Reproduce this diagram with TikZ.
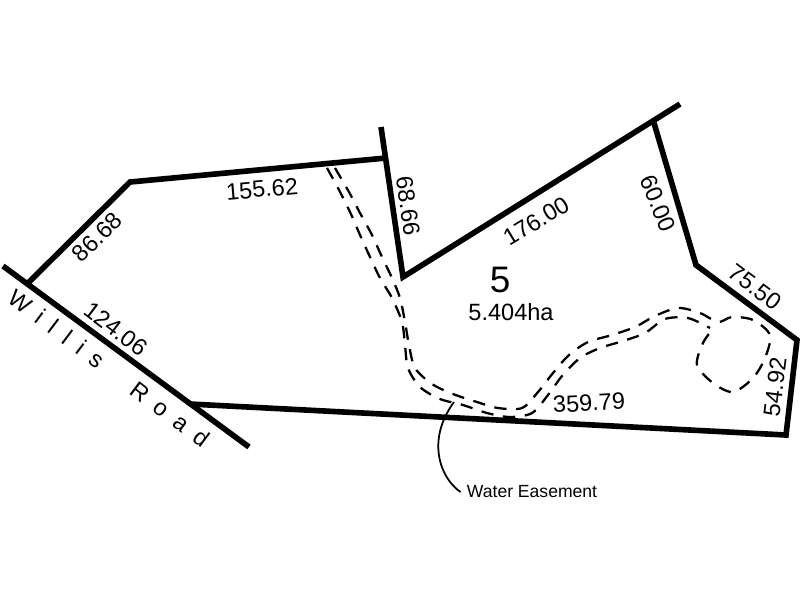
\documentclass[tikz,border=0pt]{standalone}
\usepackage{fontspec}
\setmainfont{Liberation Sans}
\begin{document}
\begin{tikzpicture}[x=0.02cm, y=-0.02cm]
	\tikzset{limite/.style={line width=3.2pt, line cap=butt, line join=miter},
		servitude/.style={line width=1.3pt, dash pattern=on 7pt off 5.5pt},
		cote/.style={inner sep=0pt, font=\fontsize{13.4}{15}\selectfont}};
	\useasboundingbox (0,0) rectangle (800,600);

	\coordinate (r1) at (3,266);
	\coordinate (r2) at (249,447);
	\coordinate (a) at (28,283);
	\coordinate (b) at (130,182);
	\coordinate (c) at (386,158);
	\coordinate (c2) at (381,127);
	\coordinate (d) at (403,277);
	\coordinate (e) at (654,123);
	\coordinate (e2) at (680,104);
	\coordinate (f) at (696,265);
	\coordinate (g) at (797,340);
	\coordinate (h) at (786,435);
	\coordinate (i) at (190,404);
	\coordinate (s) at (454,402);

	\draw[limite] (r1) -- (r2);
	\draw[limite] (a) -- (b) -- (c);
	\draw[limite] (c2) -- (d) -- (e2);
	\draw[limite] (e) -- (f) -- (g) -- (h) -- (i);

	\node[cote, rotate=5] (n1) at (262,189) {155.62};
	\node[cote, rotate=45] (n2) at (97,237) {86.68};
	\node[cote, rotate=-37] (n3) at (116,329) {124.06};
	\node[cote, rotate=-82] (n4) at (408,206) {68.66};
	\node[cote, rotate=31] (n5) at (536,221) {176.00};
	\node[cote, rotate=-67] (n6) at (658,203) {60.00};
	\node[cote, rotate=-37] (n7) at (755,287) {75.50};
	\node[cote, rotate=83] (n8) at (775,387) {54.92};
	\node[cote, rotate=3] (n9) at (589,403) {359.79};
	\node[inner sep=0pt, font=\fontsize{21}{24}\selectfont] (lot) at (500,280) {5};
	\node[cote] (aire) at (511,312) {5.404ha};
	\node[inner sep=0pt, font=\fontsize{10}{12}\selectfont] (eau) at (532,492) {Water Easement};
	\node[cote, rotate=-37] (nom) at (109,368) {W\,\,\,i\,\,\,l\,\,\,l\,\,\,i\,\,\,s\quad\,\,\,\,R\,\,\,o\,\,\,a\,\,\,d};

	\draw[servitude] plot[smooth] coordinates {(327,168) (338,188) (350,212) (360,235) (370,257) (380,278) (392,298) (402,322) (405,345) (408,368) (420,387) (440,399) (463,405) (487,413) (510,417) (532,413) (548,395) (562,376) (580,358) (600,348) (623,341) (645,333) (665,319) (688,318) (710,328)};
	\draw[servitude] plot[smooth] coordinates {(335,168) (349,192) (360,213) (372,235) (382,257) (392,278) (400,298) (405,322) (409,345) (415,368) (432,384) (453,394) (477,402) (498,408) (522,408) (538,392) (553,373) (569,355) (588,342) (612,335) (635,327) (655,316) (678,308) (700,313) (718,322) (732,317) (753,320) (770,335) (765,358) (753,378) (733,392) (713,383) (697,365) (703,343) (712,330)};

	\draw[line width=1pt] (eau.west) ++(-6,0) coordinate (e1) (e1) .. controls (440,478) and (426,440) .. (s);
\end{tikzpicture}
\end{document}
